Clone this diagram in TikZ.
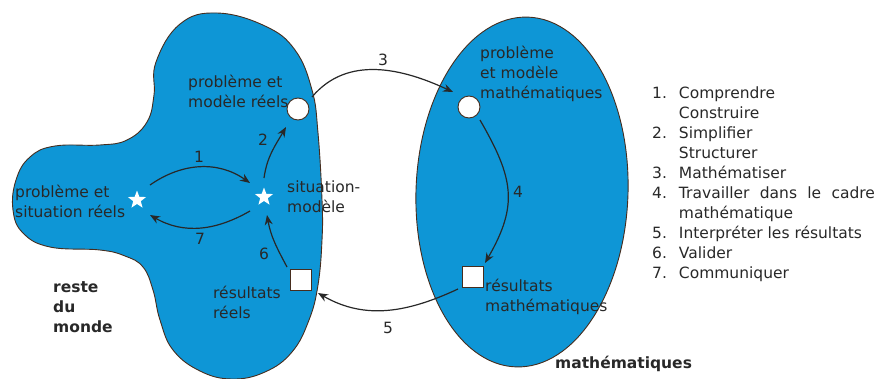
\documentclass[tikz,border=0pt]{standalone}
\usepackage{fontspec}
\setmainfont{DejaVu Sans}
\usetikzlibrary{arrows.meta,shapes.geometric,calc}
\definecolor{zoneblue}{RGB}{14,150,214}
\definecolor{edgebrown}{RGB}{70,45,30}
\definecolor{ink}{RGB}{40,40,40}
\begin{document}
\begin{tikzpicture}[x=1pt,y=1pt,
  every node/.style={font=\fontsize{15.5}{20}\selectfont, text=ink, inner sep=0pt},
  lbl/.style={anchor=base west},
  boldlbl/.style={anchor=base west, font=\fontsize{15.5}{20}\selectfont\bfseries},
  num/.style={anchor=center},
  arr/.style={draw=ink, line width=1.2pt, -{Stealth[length=10pt,width=8pt]}},
  zone/.style={fill=zoneblue, draw=edgebrown, line width=0.9pt},
  starmark/.style={star, star points=5, star point ratio=2.4, fill=white, minimum size=19pt},
  dot/.style={circle, fill=white, draw=edgebrown, line width=0.9pt, minimum size=22pt},
  boxmark/.style={rectangle, fill=white, draw=edgebrown, line width=0.9pt, minimum size=21pt}]

\useasboundingbox (0,0) rectangle (880,-378);

% real-world blob
\draw[zone] plot[smooth cycle, tension=0.7] coordinates {
  (156,-62) (180,-24) (217,-13) (265,-26) (295,-50) (312,-90) (318,-133)
  (322,-200) (322,-240) (318,-285) (309,-320) (292,-352) (265,-372)
  (232,-379) (200,-371) (173,-350) (160,-320) (153,-290) (143,-267)
  (125,-256) (100,-250) (50,-247) (23,-233) (13,-210) (16,-180)
  (30,-157) (55,-146) (100,-145) (127,-140) (147,-122) (154,-95)};

% mathematics ellipse
\draw[zone, rotate around={-2:(522,-192)}] (522,-192) ellipse [x radius=106, y radius=175];

% markers
\node[starmark] (sL) at (137,-200) {};
\node[starmark] (sR) at (264,-197) {};
\node[dot] (cB) at (298,-109) {};
\node[boxmark] (qB) at (301,-280) {};
\node[dot] (cM) at (469,-107) {};
\node[boxmark] (qM) at (473,-277) {};

% labels (first line baselines as in the reference)
\node[lbl] (tPMR) at (188,-87) {\begin{tabular}[t]{@{}l@{}}problème et\\modèle réels\end{tabular}};
\node[lbl] (tPSR) at (15,-197) {\begin{tabular}[t]{@{}l@{}}problème et\\situation réels\end{tabular}};
\node[lbl] (tSM) at (287,-192) {\begin{tabular}[t]{@{}l@{}}situation-\\modèle\end{tabular}};
\node[lbl] (tRR) at (213,-298) {\begin{tabular}[t]{@{}l@{}}résultats\\réels\end{tabular}};
\node[boldlbl] (tRM) at (53,-292) {\begin{tabular}[t]{@{}l@{}}reste\\du\\monde\end{tabular}};
\node[lbl] (tPMM) at (480,-58) {\begin{tabular}[t]{@{}l@{}}problème\\et modèle\\mathématiques\end{tabular}};
\node[lbl] (tRMa) at (485,-291) {\begin{tabular}[t]{@{}l@{}}résultats\\mathématiques\end{tabular}};
\node[boldlbl] (tMa) at (555,-368) {mathématiques};

% step list
\node[anchor=base west] (list) at (652,-98) {%
  \begin{tabular}[t]{@{}r@{\hspace{12pt}}l@{}}
  1. & Comprendre\\
     & Construire\\
  2. & Simplifier\\
     & Structurer\\
  3. & Mathématiser\\
  4. & \makebox[196pt][s]{Travailler dans le cadre}\\
     & mathématique\\
  5. & Interpréter les résultats\\
  6. & Valider\\
  7. & Communiquer
  \end{tabular}};

% arrows
\draw[arr] ($(sL)+(13,15)$) to[out=35,in=145] ($(sR)+(-14,14)$);
\draw[arr] ($(sR)+(-14,-14)$) to[out=-150,in=-30] ($(sL)+(13,-15)$);
\draw[arr] ($(sR)+(0,19)$) to[out=82,in=-120] ($(cB)+(-12,-18)$);
\draw[arr] ($(qB)+(-14,13)$) to[out=118,in=-80] ($(sR)+(3,-18)$);
\draw[arr] ($(cB)+(14,12)$) to[out=50,in=155] ($(cM)+(-16,15)$);
\draw[arr] ($(cM)+(11,-13)$) to[out=-60,in=60,looseness=1.2] ($(qM)+(12,14)$);
\draw[arr] ($(qM)+(-15,-12)$) to[out=-155,in=-30] ($(qB)+(17,-13)$);

% step numbers
\node[num] (n1) at (199,-157) {1};
\node[num] (n2) at (263,-140) {2};
\node[num] (n3) at (383,-60) {3};
\node[num] (n4) at (518,-192) {4};
\node[num] (n5) at (388,-328) {5};
\node[num] (n6) at (264,-254) {6};
\node[num] (n7) at (200,-239) {7};
\end{tikzpicture}
\end{document}
